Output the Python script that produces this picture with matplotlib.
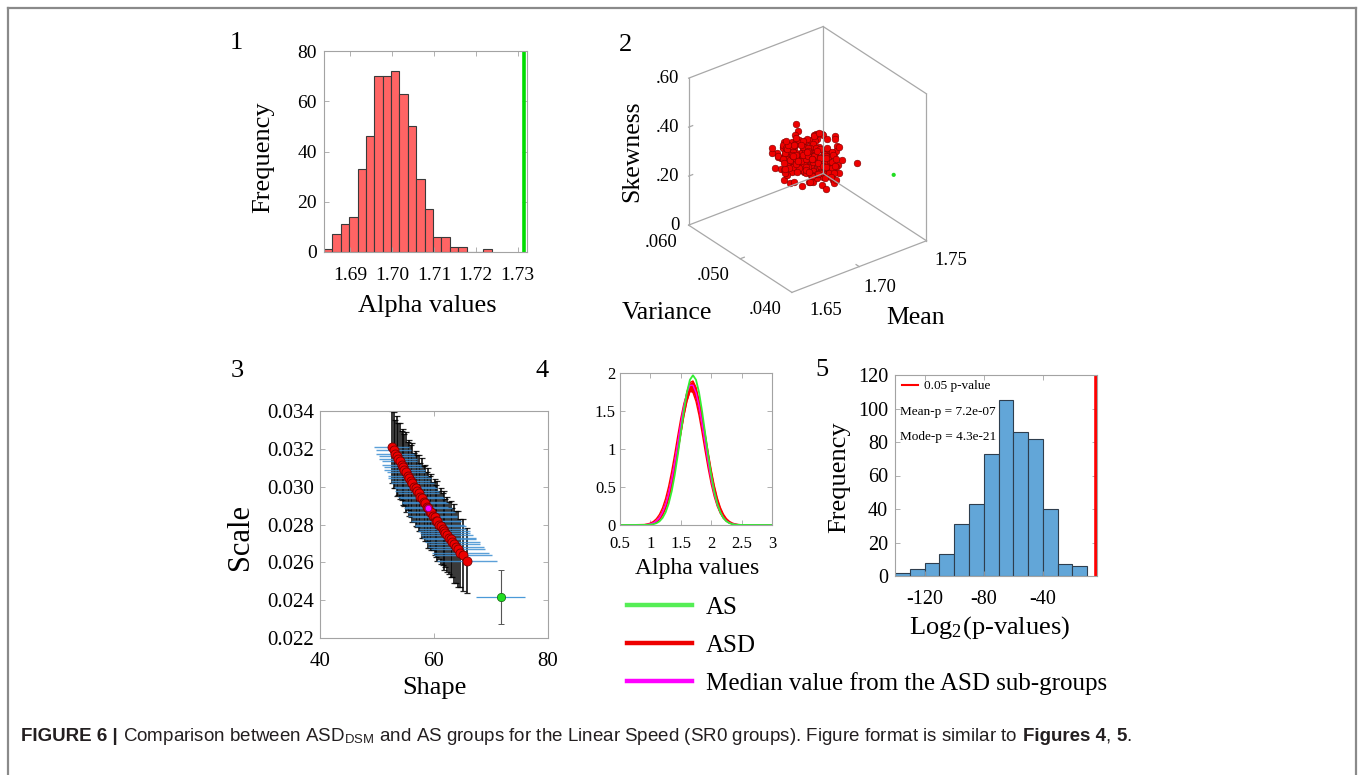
import numpy as np
import matplotlib
matplotlib.use("Agg")
import matplotlib.pyplot as plt
from matplotlib.lines import Line2D
from matplotlib.ticker import FormatStrFormatter
from mpl_toolkits.mplot3d import proj3d

plt.rcParams["font.family"] = ["Liberation Serif", "DejaVu Serif"]
plt.rcParams["mathtext.fontset"] = "stix"

# ====================== DATA ======================
# Panel 1: histogram of ASD alpha values, AS alpha value
alpha_bin_edges = [1.6838, 1.6858, 1.6878, 1.6898, 1.6918, 1.6938, 1.6958,
                   1.6978, 1.6998, 1.7018, 1.7038, 1.7058, 1.7078, 1.7098,
                   1.7118, 1.7138, 1.7158, 1.7178, 1.7198, 1.7218, 1.7238]
alpha_counts = [1, 7, 11, 14, 33, 46, 70, 70, 72, 63, 50, 29, 17, 6, 6, 2, 2, 0, 0, 1]
as_alpha_value = 1.7315
alpha_ticks = [1.69, 1.70, 1.71, 1.72, 1.73]
alpha_tick_labels = ["1.69", "1.70", "1.71", "1.72", "1.73"]
freq1_ticks = [0, 20, 40, 60, 80]

# Panel 2: 3D scatter (Mean, Variance, Skewness)
asd_mean = [1.703, 1.693, 1.712, 1.698, 1.708, 1.686, 1.705, 1.700, 1.690, 1.715,
            1.696, 1.709, 1.699, 1.706, 1.688, 1.702, 1.711, 1.694, 1.704, 1.684,
            1.707, 1.697, 1.713, 1.701, 1.692, 1.710, 1.695, 1.703, 1.689, 1.717,
            1.698, 1.706, 1.691, 1.700, 1.714, 1.696, 1.708, 1.687, 1.702, 1.705,
            1.693, 1.711, 1.699, 1.685, 1.709, 1.704, 1.694, 1.712, 1.700, 1.697,
            1.707, 1.690, 1.703, 1.716, 1.692, 1.701, 1.706, 1.695, 1.710, 1.688,
            1.702, 1.698, 1.713, 1.694, 1.705, 1.691, 1.708, 1.699, 1.715, 1.686,
            1.704, 1.700, 1.696, 1.711, 1.693, 1.703, 1.709, 1.689, 1.701, 1.697,
            1.707, 1.684, 1.712, 1.702, 1.695, 1.706, 1.692, 1.714, 1.698, 1.704,
            1.690, 1.710, 1.700, 1.694, 1.708, 1.687, 1.705, 1.701, 1.696, 1.718,
            1.691, 1.703, 1.707, 1.699, 1.688, 1.711, 1.697, 1.706, 1.693, 1.702,
            1.709, 1.685, 1.700, 1.713, 1.695, 1.704, 1.692, 1.708, 1.701, 1.698,
            1.712, 1.690, 1.705, 1.694, 1.703, 1.716, 1.689, 1.707, 1.699, 1.710,
            1.696, 1.702, 1.686, 1.709, 1.700, 1.693, 1.706, 1.697, 1.711, 1.691,
            1.704, 1.715, 1.698, 1.701, 1.688, 1.708, 1.695, 1.703, 1.713, 1.692,
            1.705, 1.699, 1.707, 1.683, 1.702, 1.710, 1.694, 1.700, 1.706, 1.697,
            1.701, 1.695, 1.709, 1.687, 1.704, 1.698, 1.712, 1.692, 1.706, 1.700,
            1.697, 1.708, 1.691, 1.703, 1.714, 1.694, 1.700, 1.710, 1.689, 1.705,
            1.707, 1.693, 1.702, 1.716, 1.698, 1.690, 1.711, 1.704, 1.696, 1.701,
            1.688, 1.706, 1.699, 1.713, 1.692, 1.703, 1.708, 1.697, 1.715, 1.694,
            1.704, 1.700, 1.685, 1.709, 1.696, 1.712, 1.702, 1.693, 1.706, 1.699,
            1.710, 1.695, 1.703, 1.691, 1.707, 1.698, 1.717, 1.701, 1.689, 1.705,
            1.696, 1.711, 1.700, 1.694, 1.708, 1.686, 1.703, 1.714, 1.698, 1.702,
            1.692, 1.706, 1.709, 1.697, 1.701, 1.713, 1.695, 1.704, 1.690, 1.707]
asd_variance = [.0510, .0478, .0503, .0529, .0490, .0512, .0463, .0500, .0520, .0483,
                .0525, .0494, .0470, .0507, .0538, .0486, .0516, .0497, .0456, .0504,
                .0480, .0522, .0492, .0513, .0501, .0465, .0509, .0473, .0534, .0496,
                .0506, .0484, .0528, .0476, .0499, .0517, .0460, .0511, .0489, .0543,
                .0495, .0519, .0482, .0505, .0468, .0524, .0487, .0502, .0531, .0474,
                .0514, .0491, .0453, .0508, .0526, .0479, .0500, .0535, .0485, .0497,
                .0472, .0503, .0518, .0488, .0462, .0510, .0539, .0493, .0481, .0521,
                .0498, .0467, .0512, .0532, .0490, .0477, .0504, .0515, .0458, .0507,
                .0486, .0527, .0496, .0475, .0509, .0501, .0483, .0537, .0520, .0464,
                .0516, .0492, .0469, .0523, .0484, .0506, .0530, .0479, .0499, .0451,
                .0502, .0513, .0489, .0461, .0525, .0495, .0508, .0476, .0541, .0487,
                .0478, .0505, .0522, .0485, .0497, .0533, .0471, .0511, .0492, .0517,
                .0482, .0466, .0500, .0518, .0454, .0509, .0494, .0526, .0474, .0504,
                .0528, .0488, .0514, .0491, .0536, .0480, .0501, .0463, .0512, .0524,
                .0485, .0499, .0459, .0519, .0507, .0473, .0515, .0496, .0468, .0510,
                .0521, .0483, .0506, .0477, .0531, .0490, .0465, .0513, .0493, .0500,
                .0492, .0516, .0477, .0508, .0485, .0524, .0499, .0470, .0511, .0494,
                .0530, .0481, .0503, .0466, .0519, .0496, .0488, .0535, .0474, .0507,
                .0483, .0510, .0527, .0491, .0460, .0514, .0498, .0521, .0487, .0476,
                .0505, .0468, .0493, .0517, .0480, .0540, .0509, .0471, .0500, .0526,
                .0515, .0489, .0457, .0502, .0533, .0478, .0495, .0512, .0464, .0520,
                .0486, .0523, .0497, .0469, .0510, .0482, .0537, .0504, .0490, .0475,
                .0518, .0473, .0506, .0529, .0494, .0461, .0513, .0484, .0501, .0532,
                .0479, .0508, .0491, .0522, .0467, .0503, .0487, .0516, .0496, .0484]
asd_skewness = [.330, .255, .375, .300, .225, .315, .360, .270, .210, .345,
                .285, .390, .240, .330, .300, .255, .345, .375, .270, .315,
                .360, .225, .315, .285, .405, .270, .300, .345, .240, .210,
                .255, .330, .285, .375, .240, .300, .390, .270, .345, .225,
                .315, .210, .345, .270, .360, .285, .300, .255, .330, .375,
                .240, .300, .360, .225, .330, .270, .390, .315, .255, .345,
                .300, .375, .255, .330, .285, .210, .345, .360, .270, .315,
                .390, .270, .300, .240, .345, .315, .225, .330, .285, .255,
                .270, .345, .225, .315, .300, .360, .285, .255, .375, .330,
                .345, .240, .330, .285, .390, .255, .270, .300, .360, .315,
                .225, .315, .270, .360, .300, .255, .375, .330, .285, .240,
                .330, .285, .345, .210, .315, .270, .360, .300, .240, .345,
                .255, .300, .390, .285, .330, .225, .315, .270, .345, .240,
                .315, .360, .270, .300, .255, .375, .285, .330, .210, .345,
                .300, .240, .330, .255, .375, .285, .345, .225, .315, .360,
                .270, .345, .285, .315, .240, .330, .300, .255, .405, .285,
                .300, .345, .255, .390, .270, .315, .225, .360, .285, .330,
                .240, .300, .375, .285, .330, .210, .345, .270, .315, .360,
                .330, .270, .405, .300, .240, .345, .285, .225, .360, .315,
                .285, .360, .315, .240, .375, .300, .255, .330, .270, .345,
                .345, .225, .300, .330, .285, .390, .255, .315, .240, .300,
                .270, .315, .360, .300, .225, .345, .285, .375, .330, .255,
                .315, .285, .240, .345, .300, .330, .270, .390, .255, .300,
                .360, .255, .330, .270, .315, .240, .375, .285, .345, .300]
as_mean, as_variance, as_skewness = 1.731, 0.0414, 0.29
mean_lim = (1.65, 1.75)
variance_lim = (0.040, 0.060)
skew_lim = (0.0, 0.6)
mean_ticks = [1.65, 1.70, 1.75]
mean_tick_labels = ["1.65", "1.70", "1.75"]
variance_ticks = [0.060, 0.050, 0.040]
variance_tick_labels = [".060", ".050", ".040"]
skew_ticks = [0.6, 0.4, 0.2, 0.0]
skew_tick_labels = [".60", ".40", ".20", "0"]

# Panel 3: Gamma shape / scale of ASD sub-groups with error bars
asd_shape = [52.6, 52.9, 53.2, 53.5, 53.7, 54.0, 54.3, 54.6, 54.8, 55.1,
             55.4, 55.7, 55.9, 56.2, 56.5, 56.8, 57.0, 57.3, 57.6, 57.9,
             58.2, 58.4, 58.7, 59.0, 59.3, 59.5, 59.8, 60.1, 60.4, 60.6,
             60.9, 61.2, 61.5, 61.8, 62.0, 62.3, 62.6, 62.9, 63.2, 63.5,
             63.8, 64.2, 64.6, 65.1, 65.8]
asd_scale = [.03209, .03195, .03173, .03162, .03146, .03134, .03112, .03103, .03086, .03077,
             .03055, .03046, .03030, .03021, .03000, .02991, .02975, .02967, .02947, .02939,
             .02918, .02915, .02895, .02888, .02868, .02866, .02846, .02839, .02820, .02818,
             .02799, .02792, .02774, .02767, .02753, .02747, .02729, .02723, .02705, .02699,
             .02681, .02672, .02651, .02638, .02609]
asd_shape_err = [3.1, 3.0, 3.3, 3.2, 3.4, 3.1, 3.5, 3.3, 3.6, 3.4,
                 3.5, 3.7, 3.4, 3.8, 3.6, 3.7, 3.9, 3.6, 4.0, 3.8,
                 3.9, 4.1, 3.8, 4.2, 4.0, 4.1, 4.3, 4.0, 4.4, 4.2,
                 4.3, 4.5, 4.2, 4.6, 4.4, 4.5, 4.7, 4.4, 4.8, 4.6,
                 4.9, 4.7, 5.0, 5.1, 5.3]
asd_scale_err = [.0019, .0020, .0018, .0021, .0019, .0020, .0018, .0020, .0019, .0021,
                 .0018, .0020, .0019, .0021, .0018, .0020, .0019, .0020, .0018, .0021,
                 .0019, .0020, .0018, .0021, .0019, .0020, .0018, .0020, .0019, .0021,
                 .0018, .0020, .0019, .0021, .0018, .0020, .0019, .0020, .0018, .0021,
                 .0019, .0020, .0018, .0019, .0017]
median_shape, median_scale = 58.9, 0.02889
as_shape, as_scale = 71.7, 0.02417
as_shape_err, as_scale_err = 4.25, 0.00142
shape_ticks = [40, 60, 80]
scale_ticks = [0.022, 0.024, 0.026, 0.028, 0.030, 0.032, 0.034]

# Panel 4: fitted densities of alpha values
density_x = [0.5, 0.9, 0.95, 1.0, 1.05, 1.1, 1.15, 1.2, 1.25, 1.3, 1.35, 1.4, 1.45,
             1.5, 1.55, 1.6, 1.65, 1.7, 1.75, 1.8, 1.85, 1.9, 1.95, 2.0, 2.05,
             2.1, 2.15, 2.2, 2.25, 2.3, 2.35, 2.4, 2.45, 2.5, 3.0]
as_density = [0, .001, .002, .005, .011, .024, .049, .093, .167, .280, .442, .658, .919,
              1.209, 1.497, 1.744, 1.911, 1.970, 1.911, 1.744, 1.497, 1.209, .919, .658, .442,
              .280, .167, .093, .049, .024, .011, .005, .002, .001, 0]
asd_density_a = [0, .006, .013, .025, .046, .083, .140, .226, .347, .507, .704, .931, 1.171,
                 1.401, 1.594, 1.727, 1.780, 1.744, 1.627, 1.444, 1.219, .979, .748, .543, .376,
                 .247, .155, .092, .052, .028, .014, .007, .003, .001, 0]
asd_density_b = [0, .002, .004, .009, .020, .039, .074, .132, .222, .354, .532, .756, 1.016,
                 1.289, 1.545, 1.750, 1.874, 1.895, 1.811, 1.636, 1.395, 1.125, .857, .617, .420,
                 .270, .164, .094, .051, .026, .013, .006, .002, .001, 0]
asd_density_c = [0, .003, .006, .012, .025, .047, .084, .143, .231, .355, .520, .722, .955,
                 1.199, 1.433, 1.627, 1.755, 1.800, 1.755, 1.627, 1.433, 1.199, .955, .722, .520,
                 .355, .231, .143, .084, .047, .025, .012, .006, .003, 0]
median_density = [0, .003, .007, .014, .028, .053, .096, .165, .267, .410, .596, .823, 1.075,
                  1.333, 1.565, 1.741, 1.838, 1.838, 1.741, 1.565, 1.333, 1.075, .823, .596, .410,
                  .267, .165, .096, .053, .028, .014, .007, .003, .002, 0]
density_xticks = [0.5, 1, 1.5, 2, 2.5, 3]
density_xtick_labels = ["0.5", "1", "1.5", "2", "2.5", "3"]
density_yticks = [0, 0.5, 1, 1.5, 2]
density_ytick_labels = ["0", "0.5", "1", "1.5", "2"]
legend_labels = ["AS", "ASD", "Median value from the ASD sub-groups"]

# Panel 5: histogram of log2 p-values
log2p_bin_edges = [-140, -130, -120, -110, -100, -90, -80, -70, -60, -50, -40, -30, -20, -10]
log2p_counts = [2, 4, 8, 13, 31, 43, 73, 105, 86, 82, 40, 7, 6]
log2_threshold = -4.32   # log2(0.05)
log2p_ticks = [-120, -80, -40]
log2p_tick_labels = ["-120", "-80", "-40"]
freq5_ticks = [0, 20, 40, 60, 80, 100, 120]
mean_p_text = "Mean-p = 7.2e-07"
mode_p_text = "Mode-p = 4.3e-21"

caption_parts = [("FIGURE 6 |", "bold", True),
                 ("Comparison between ASD$_\\mathregular{DSM}$ and AS groups for the Linear Speed "
                  "(SR0 groups). Figure format is similar to", "normal", True),
                 ("Figures 4", "bold", False),
                 (",", "normal", True),
                 ("5", "bold", False),
                 (".", "normal", False)]

# ====================== FIGURE ======================
W, H = 1363, 775
fig = plt.figure(figsize=(W / 100, H / 100), dpi=100)
BOX = "#a3a3a3"


def add_axes_px(l, t, r, b, **kw):
    return fig.add_axes([l / W, 1 - b / H, (r - l) / W, (b - t) / H], **kw)


def style(ax, size, xpad, ypad):
    for s in ax.spines.values():
        s.set_color(BOX)
        s.set_linewidth(0.8)
    ax.tick_params(direction="in", top=True, right=True, length=3.5, width=0.6,
                   color=BOX, labelsize=size, labelcolor="black")
    ax.tick_params(axis="x", pad=xpad)
    ax.tick_params(axis="y", pad=ypad)


# outer frame
fig.add_artist(Line2D([8 / W, 8 / W], [0, 1 - 8 / H], transform=fig.transFigure,
                      color="#8a8a8a", lw=1.6))
fig.add_artist(Line2D([8 / W, 1355.5 / W], [1 - 8 / H, 1 - 8 / H], transform=fig.transFigure,
                      color="#8a8a8a", lw=1.6))
fig.add_artist(Line2D([1355.5 / W, 1355.5 / W], [0, 1 - 8 / H], transform=fig.transFigure,
                      color="#8a8a8a", lw=1.6))

# ---------- Panel 1 ----------
ax1 = add_axes_px(324, 51, 527, 252)
ax1.bar(alpha_bin_edges[:-1], alpha_counts, width=np.diff(alpha_bin_edges), align="edge",
        color="#ff6464", edgecolor="#3a3a3a", linewidth=0.8)
ax1.axvline(as_alpha_value, color="#00dd00", lw=2.6)
ax1.set_xlim(1.6838, 1.7322)
ax1.set_ylim(0, 80)
ax1.set_xticks(alpha_ticks, alpha_tick_labels)
ax1.set_yticks(freq1_ticks)
style(ax1, 14, 11, 5)
ax1.set_ylabel("Frequency", fontsize=19)
ax1.yaxis.set_label_coords(-0.245, 0.47)
ax1.set_xlabel("Alpha values", fontsize=19)
ax1.xaxis.set_label_coords(0.51, -0.215)

# ---------- Panel 2 (3D) ----------
ax2 = fig.add_axes([0.4850, 0.6052, 0.2093, 0.3681], projection="3d", computed_zorder=False)
ax2.set_proj_type("ortho")
ax2.set_xlim(*mean_lim)
ax2.set_ylim(*variance_lim)
ax2.set_zlim(*skew_lim)
ax2.set_box_aspect((1, 1, 1))
ax2.view_init(elev=30, azim=-127.5)
ax2.set_axis_off()
x0, x1 = mean_lim
y0, y1 = variance_lim
z0, z1 = skew_lim
box_edges = [((x0, x1), (y0, y0), (z0, z0)), ((x1, x1), (y0, y1), (z0, z0)),
             ((x1, x0), (y1, y1), (z0, z0)), ((x0, x0), (y1, y0), (z0, z0)),
             ((x0, x0), (y1, y1), (z0, z1)), ((x1, x1), (y1, y1), (z0, z1)),
             ((x1, x1), (y0, y0), (z0, z1)), ((x0, x1), (y1, y1), (z1, z1)),
             ((x1, x1), (y1, y0), (z1, z1))]
for xs, ys, zs in box_edges:
    ax2.plot(xs, ys, zs, color="#a8a8a8", lw=0.9)
for m in mean_ticks[1:2]:
    ax2.plot((m, m), (y0, y0 + 0.0006), (z0, z0), color="#a8a8a8", lw=0.9)
for v in variance_ticks[1:2]:
    ax2.plot((x0, x0 + 0.003), (v, v), (z0, z0), color="#a8a8a8", lw=0.9)
for s in skew_ticks[1:3]:
    ax2.plot((x0, x0 + 0.003), (y1, y1), (s, s), color="#a8a8a8", lw=0.9)
ax2.scatter(asd_mean, asd_variance, asd_skewness, s=23, c="#ee0000",
            edgecolors="#7a0000", linewidths=0.4, depthshade=False)
ax2.scatter([as_mean], [as_variance], [as_skewness], s=9, c="#22dd22",
            edgecolors="none", depthshade=False)

fig.canvas.draw()
M = ax2.M


def proj(x, y, z):
    a, b, _ = proj3d.proj_transform(np.array([x]), np.array([y]), np.array([z]), M)
    return float(a[0]), float(b[0])


def note3d(txt, pt, off, size, **kw):
    ax2.annotate(txt, xy=proj(*pt), xycoords="data", xytext=off, textcoords="offset pixels",
                 ha=kw.pop("ha", "center"), va=kw.pop("va", "center"), fontsize=size,
                 annotation_clip=False, **kw)


for s, lab in zip(skew_ticks, skew_tick_labels):
    note3d(lab, (x0, y1, s), (-9, 0), 13.5, ha="right")
for v, lab in zip(variance_ticks, variance_tick_labels):
    note3d(lab, (x0, v, z0), (-27, -17), 13.5)
for m, lab, off in zip(mean_ticks, mean_tick_labels, [(34, -18), (21, -21), (24, -20)]):
    note3d(lab, (m, y0, z0), off, 13.5)
note3d("Skewness", (x0, y1, 0.3), (-56, 0), 18.5, rotation=90)
note3d("Variance", (x0, 0.05, z0), (-73, -54), 18.5)
note3d("Mean", (1.70, y0, z0), (56, -51), 18.5)

# ---------- Panel 3 ----------
ax3 = add_axes_px(320, 411, 548, 638)
ax3.errorbar(asd_shape, asd_scale, yerr=asd_scale_err, fmt="none", ecolor="black",
             elinewidth=1.3, capsize=2, capthick=0.9, alpha=0.85)
ax3.errorbar(asd_shape, asd_scale, xerr=asd_shape_err, fmt="none", ecolor="#3f8fd2",
             elinewidth=1.0, capsize=0, alpha=0.85)
ax3.plot(asd_shape, asd_scale, "o", mfc="#ee0000", mec="#7a0000", ms=6.5, mew=0.6)
ax3.plot([median_shape], [median_scale], "o", mfc="#ff00ff", mec="#800080", ms=4.5, mew=0.5)
ax3.errorbar([as_shape], [as_scale], yerr=[as_scale_err], fmt="none", ecolor="#555555",
             elinewidth=0.8, capsize=2.5, capthick=0.7)
ax3.errorbar([as_shape], [as_scale], xerr=[as_shape_err], fmt="none", ecolor="#4a9ad8",
             elinewidth=0.9, capsize=0)
ax3.plot([as_shape], [as_scale], "o", mfc="#22dd22", mec="#106010", ms=6, mew=0.5)
ax3.set_xlim(40, 80)
ax3.set_ylim(0.022, 0.034)
ax3.set_xticks(shape_ticks)
ax3.set_yticks(scale_ticks)
ax3.yaxis.set_major_formatter(FormatStrFormatter("%.3f"))
style(ax3, 15, 10, 4)
ax3.set_ylabel("Scale", fontsize=22)
ax3.yaxis.set_label_coords(-0.285, 0.445)
ax3.set_xlabel("Shape", fontsize=19)
ax3.xaxis.set_label_coords(0.5, -0.17)

# ---------- Panel 4 ----------
ax4 = add_axes_px(620, 373, 772, 525)
lower = np.minimum.reduce([asd_density_a, asd_density_b, asd_density_c])
upper = np.maximum.reduce([asd_density_a, asd_density_b, asd_density_c])
ax4.fill_between(density_x, lower, upper, color="#ff0000", lw=0)
for d in (asd_density_a, asd_density_b, asd_density_c):
    ax4.plot(density_x, d, color="#ff0000", lw=1.0)
ax4.plot(density_x, median_density, color="#ff00ff", lw=1.0)
ax4.plot(density_x, as_density, color="#33ee33", lw=1.3)
ax4.set_xlim(0.5, 3)
ax4.set_ylim(0, 2)
ax4.set_xticks(density_xticks, density_xtick_labels)
ax4.set_yticks(density_yticks, density_ytick_labels)
style(ax4, 12, 8, 3)
ax4.set_xlabel("Alpha values", fontsize=17)
ax4.xaxis.set_label_coords(0.506, -0.215)

handles = [Line2D([], [], color="#55ee55", lw=3.2),
           Line2D([], [], color="#ee0000", lw=3.2),
           Line2D([], [], color="#ff00ff", lw=3.2)]
fig.legend(handles, legend_labels, loc="upper left", bbox_to_anchor=(627 / W, 1 - 596 / H),
           frameon=False, fontsize=18, handlelength=2.6, handletextpad=0.55,
           labelspacing=0.62, borderpad=0, borderaxespad=0)

# ---------- Panel 5 ----------
ax5 = add_axes_px(895, 375, 1097, 576)
ax5.bar(log2p_bin_edges[:-1], log2p_counts, width=np.diff(log2p_bin_edges), align="edge",
        color="#62a6d8", edgecolor="#2e3e4e", linewidth=0.8)
ax5.axvline(log2_threshold, color="#ff0000", lw=2.6)
ax5.set_xlim(-140, -3.4)
ax5.set_ylim(0, 120)
ax5.set_xticks(log2p_ticks, log2p_tick_labels)
ax5.set_yticks(freq5_ticks)
style(ax5, 14.5, 10, 5)
ax5.set_ylabel("Frequency", fontsize=19)
ax5.yaxis.set_label_coords(-0.22, 0.49)
ax5.set_xlabel("Log$_\\mathregular{2}$(p-values)", fontsize=19)
ax5.xaxis.set_label_coords(0.47, -0.19)
ax5.legend([Line2D([], [], color="#ff0000", lw=1.5)], ["0.05 p-value"], loc="upper left",
           bbox_to_anchor=(0.035, 0.975), frameon=False, fontsize=9.5, handlelength=1.2,
           handletextpad=0.45, borderpad=0, borderaxespad=0)
ax5.text(0.025, 0.816, mean_p_text, transform=ax5.transAxes, fontsize=9.5, va="center")
ax5.text(0.025, 0.692, mode_p_text, transform=ax5.transAxes, fontsize=9.5, va="center")

# ---------- Panel numbers ----------
for lab, (px, py) in zip(["1", "2", "3", "4", "5"],
                         [(236, 43), (625, 45), (237, 371), (542, 371), (822, 370)]):
    fig.text(px / W, 1 - py / H, lab, fontsize=19, ha="center", va="center")

# ---------- Caption ----------
renderer = fig.canvas.get_renderer()
cap_size = 13.5
x_px = 21.0
gap_px = 0.28 * cap_size * 100 / 72
for txt, weight, gap in caption_parts:
    t = fig.text(x_px / W, 1 - 741 / H, txt, fontsize=cap_size, weight=weight,
                 family=["Liberation Sans", "DejaVu Sans"], color="#231f20",
                 ha="left", va="baseline")
    bb = t.get_window_extent(renderer)
    x_px = bb.x1 + (gap_px if gap else 0.0)

fig.savefig("out.png", dpi=100)
